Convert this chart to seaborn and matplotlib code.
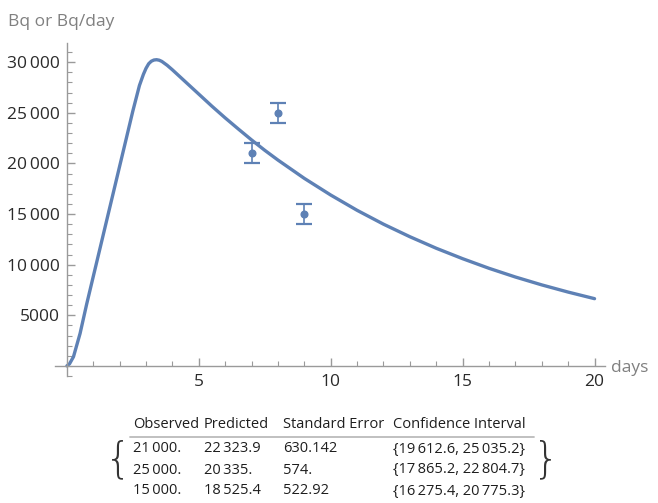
import matplotlib
matplotlib.use("Agg")
import matplotlib.pyplot as plt
import matplotlib.ticker as mticker
import numpy as np
import pandas as pd
import seaborn as sns

# Fitted curve
curve_days = [0, 0.1, 0.25, 0.5, 0.75, 1.0, 1.25, 1.5, 1.75, 2.0, 2.25, 2.5, 2.75,
              2.9, 3.0, 3.1, 3.2, 3.3, 3.4, 3.5, 3.6, 3.8, 4.0, 4.5, 5, 5.5, 6, 6.5,
              7, 7.5, 8, 9, 10, 11, 12, 13, 14, 15, 16, 17, 18, 19, 20]
curve_bq = [0, 200, 900, 3200, 6100, 8830, 11550, 14280, 17000, 19730, 22450, 25180, 27700,
            28800, 29400, 29850, 30100, 30220, 30250, 30200, 30080, 29700, 29250, 28050, 26850,
            25650, 24500, 23400, 22324, 21300, 20335, 18525, 16880, 15370, 14000, 12760,
            11620, 10590, 9640, 8780, 8000, 7290, 6640]

# Observations with error bars
obs_days = [7, 8, 9]
obs_bq = [21000, 25000, 15000]
obs_err = [1000, 1000, 1000]

# Table below the plot
table_header = ["Observed", "Predicted", "Standard Error", "Confidence Interval"]
table_rows = [
    ["21\u2009000.", "22\u2009323.9", "630.142", "{19\u2009612.6, 25\u2009035.2}"],
    ["25\u2009000.", "20\u2009335.", "574.", "{17\u2009865.2, 22\u2009804.7}"],
    ["15\u2009000.", "18\u2009525.4", "522.92", "{16\u2009275.4, 20\u2009775.3}"],
]

blue = "#5E81B5"
axis_gray = "#9a9a9a"
label_gray = "#808080"
text_dark = "#1e1e1e"

sns.set_style("white")
plt.rcParams["font.family"] = ["Open Sans", "DejaVu Sans"]

fig = plt.figure(figsize=(6.58, 5.03), dpi=100)
ax = fig.add_axes([0.0836, 0.2525, 0.836, 0.662])

df = pd.DataFrame({"days": curve_days, "bq": curve_bq})
sns.lineplot(data=df, x="days", y="bq", ax=ax, color=blue, linewidth=2.4,
             solid_capstyle="round", solid_joinstyle="round")
ax.errorbar(obs_days, obs_bq, yerr=obs_err, fmt="o", color=blue, markersize=4.8,
            capsize=6, elinewidth=1.2, capthick=1.6)

ax.set_xlim(-0.45, 20.4)
ax.set_ylim(-1000, 31900)

for side in ["top", "right"]:
    ax.spines[side].set_visible(False)
ax.spines["left"].set_position(("data", 0))
ax.spines["bottom"].set_position(("data", 0))
for side in ["left", "bottom"]:
    ax.spines[side].set_color(axis_gray)
    ax.spines[side].set_linewidth(1.0)

ax.set_xticks([5, 10, 15, 20])
ax.xaxis.set_minor_locator(mticker.MultipleLocator(1))
ax.set_yticks([5000, 10000, 15000, 20000, 25000, 30000])
ax.yaxis.set_minor_locator(mticker.MultipleLocator(1000))


def fmt_y(v, pos):
    s = f"{int(v):d}"
    if v >= 10000:
        s = s[:-3] + "\u2009" + s[-3:]
    return s


ax.yaxis.set_major_formatter(mticker.FuncFormatter(fmt_y))
ax.tick_params(which="both", direction="in", color=axis_gray, labelcolor="#2a2a2a",
               labelsize=12.5, left=True, bottom=True)
ax.tick_params(which="major", length=6, width=1.0)
ax.tick_params(which="minor", length=3.5, width=0.8)
ax.tick_params(axis="y", pad=5)
ax.tick_params(axis="x", pad=6)
for lab in ax.get_xticklabels() + ax.get_yticklabels():
    lab.set_fontweight("medium")
ax.set_xlabel("")
ax.set_ylabel("")

fig.text(8 / 658, 1 - 22 / 503, "Bq or Bq/day", color=label_gray, fontsize=12.5,
         va="center", ha="left", fontweight="medium")
fig.text(611 / 658, 1 - 368 / 503, "days", color=label_gray, fontsize=12.5,
         va="center", ha="left", fontweight="medium")

# table
col_x = [133, 204, 283, 393]
row_y = [449, 470, 491]
for x, h in zip(col_x, table_header):
    fig.text(x / 658, 1 - 425 / 503, h, fontsize=10.5, color=text_dark, va="center", ha="left")
fig.add_artist(plt.Line2D([130 / 658, 534 / 658], [1 - 437 / 503, 1 - 437 / 503],
                          color="#bbbbbb", linewidth=1.3))
for y, row in zip(row_y, table_rows):
    for x, cell in zip(col_x, row):
        fig.text(x / 658, 1 - y / 503, cell, fontsize=10.5, color=text_dark,
                 va="center", ha="left")
fig.text(131 / 658, 1 - 460 / 503, "{", fontsize=30, color="#333333", va="center",
         ha="right", family="DejaVu Sans", fontweight="ultralight")
fig.text(533 / 658, 1 - 460 / 503, "}", fontsize=30, color="#333333", va="center",
         ha="left", family="DejaVu Sans", fontweight="ultralight")

fig.savefig("out.png", dpi=100)
